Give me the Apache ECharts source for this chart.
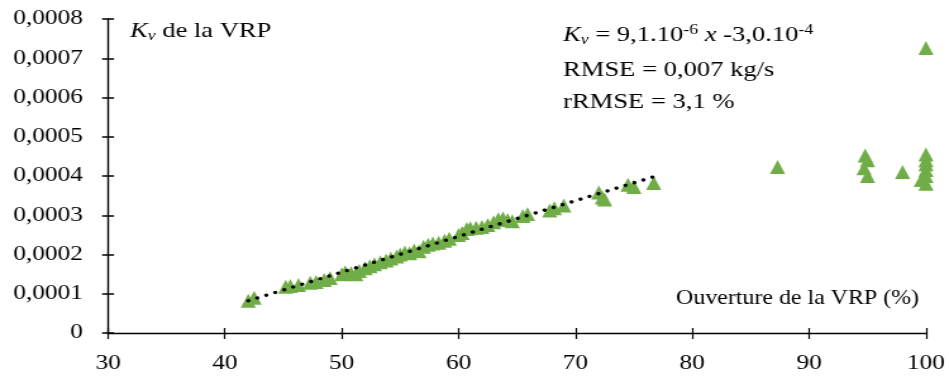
<!DOCTYPE html>
<html><head><meta charset="utf-8">
<script src="https://cdn.jsdelivr.net/npm/echarts@6/dist/echarts.min.js"></script>
<style>
html,body{margin:0;padding:0;background:#fff;overflow:hidden}
#wrap{width:949px;height:383px;overflow:hidden}
#c{width:750px;height:383px;transform:scaleX(1.2653);transform-origin:0 0}
</style>
</head><body><div id="wrap"><div id="c"></div></div>
<script>
// Ouverture de la VRP (%)
const xOpen = [42.0, 42.5, 45.2, 45.6, 46.3, 47.3, 47.8, 48.5, 49.0,
  50.0, 50.3, 50.8, 51.2, 51.5, 52.0, 52.4, 52.8, 53.3, 53.8, 54.2, 54.7, 55.0, 55.4, 55.8, 56.2, 56.6,
  57.0, 57.4, 57.8, 58.3, 58.8, 59.2, 60.0, 60.3, 60.7, 61.0, 61.5, 62.0, 62.5, 63.0, 63.4, 63.8, 64.2, 64.6,
  65.5, 65.9, 67.8, 68.2, 69.0, 72.0, 72.3, 72.5, 74.5, 75.0, 76.7,
  87.3, 94.8, 95.0, 94.7, 95.0, 98.0, 100, 100, 100, 100, 100, 100, 99.6, 100];
// Kv de la VRP
const kv = [0.000082, 0.000090, 0.000118, 0.000120, 0.000122, 0.000128, 0.000130, 0.000135, 0.000140,
  0.000150, 0.000155, 0.000152, 0.000150, 0.000158, 0.000165, 0.000170, 0.000175, 0.000180, 0.000185, 0.000190, 0.000195, 0.000200, 0.000205, 0.000203, 0.000210, 0.000208,
  0.000220, 0.000225, 0.000228, 0.000230, 0.000235, 0.000240, 0.000250, 0.000255, 0.000265, 0.000267, 0.000268, 0.000270, 0.000275, 0.000282, 0.000290, 0.000292, 0.000288, 0.000285,
  0.000298, 0.000303, 0.000312, 0.000318, 0.000325, 0.000358, 0.000345, 0.000340, 0.000378, 0.000372, 0.000382,
  0.000423, 0.000452, 0.000440, 0.000420, 0.000400, 0.000410, 0.000726, 0.000455, 0.000440, 0.000430, 0.000415, 0.000400, 0.000390, 0.000380];
// Trend line: Kv = a x + b over the linear range
const trendRange = [42.0, 76.7];
const slope = 9.1e-6, intercept = -3.0e-4;
const xTicks = [30, 100, 10];
const yTicks = [0, 0.0008, 0.0001];

const font = '"Liberation Serif","Times New Roman",serif';
const chart = echarts.init(document.getElementById('c'));
const pts = xOpen.map((x, i) => [x, kv[i]]);
const trend = trendRange.map(x => [x, slope * x + intercept]);
const fmtY = v => v === 0 ? '0' : v.toFixed(4).replace('.', ',');
const axisBase = {
  axisLine: {show: true, lineStyle: {color: '#000', width: 1.4}},
  splitLine: {show: false}
};
chart.setOption({
  animation: false,
  backgroundColor: '#fff',
  grid: {left: 85.4, right: 18.2, top: 19, bottom: 50},
  xAxis: [
    Object.assign({type: 'value', min: xTicks[0], max: xTicks[1], interval: xTicks[2],
      axisTick: {show: true, length: 6, lineStyle: {color: '#000', width: 1.2}},
      axisLabel: {color: '#000', fontFamily: font, fontSize: 20, margin: 21}}, axisBase),
    {type: 'value', min: xTicks[0], max: xTicks[1], interval: xTicks[2], position: 'bottom',
      axisLine: {show: false}, splitLine: {show: false}, axisLabel: {show: false},
      axisTick: {show: true, inside: true, length: 5, lineStyle: {color: '#000', width: 1.2}}}
  ],
  yAxis: [
    Object.assign({type: 'value', min: yTicks[0], max: yTicks[1], interval: yTicks[2],
      axisTick: {show: true, length: 4.7, lineStyle: {color: '#000', width: 1.5}},
      axisLabel: {color: '#000', fontFamily: font, fontSize: 20, margin: 20, formatter: fmtY}}, axisBase),
    {type: 'value', min: yTicks[0], max: yTicks[1], interval: yTicks[2], position: 'left',
      axisLine: {show: false}, splitLine: {show: false}, axisLabel: {show: false},
      axisTick: {show: true, inside: true, length: 4.7, lineStyle: {color: '#000', width: 1.5}}}
  ],
  series: [
    {type: 'scatter', data: pts, symbol: 'triangle', symbolSize: [12, 14],
      itemStyle: {color: '#70AD47', opacity: 1}, z: 2},
    {type: 'line', data: trend, showSymbol: false, symbol: 'none', z: 3,
      lineStyle: {color: '#000', width: 3.4, type: [0.01, 7.6], cap: 'round'}}
  ],
  graphic: [
    {type: 'text', left: 102.7, top: 21, style: {
      rich: {
        i: {fontFamily: font, fontSize: 21, fontStyle: 'italic', fill: '#000'},
        s: {fontFamily: font, fontSize: 14, fontStyle: 'italic', fill: '#000', padding: [10, 0, 0, 0]},
        n: {fontFamily: font, fontSize: 21, fill: '#000'}
      },
      text: '{i|K}{s|v}{n| de la VRP}'}},
    {type: 'text', left: 445, top: 23, style: {
      rich: {
        i: {fontFamily: font, fontSize: 21, fontStyle: 'italic', fill: '#000'},
        s: {fontFamily: font, fontSize: 14, fontStyle: 'italic', fill: '#000', padding: [10, 0, 0, 0]},
        n: {fontFamily: font, fontSize: 21, fill: '#000'},
        p: {fontFamily: font, fontSize: 14, fill: '#000', padding: [0, 0, 10, 0]}
      },
      text: '{i|K}{s|v}{n| = 9,1.10}{p|-6}{i| x}{n| -3,0.10}{p|-4}'}},
    {type: 'text', left: 445, top: 60, style: {
      text: 'RMSE = 0,007 kg/s', fontFamily: font, fontSize: 21, fill: '#000'}},
    {type: 'text', left: 445, top: 92, style: {
      text: 'rRMSE = 3,1 %', fontFamily: font, fontSize: 21, fill: '#000'}},
    {type: 'text', left: 534.3, top: 288, scaleX: 0.9, style: {
      text: 'Ouverture de la VRP (%)', fontFamily: font, fontSize: 21, fill: '#000'}}
  ]
});
</script></body></html>
